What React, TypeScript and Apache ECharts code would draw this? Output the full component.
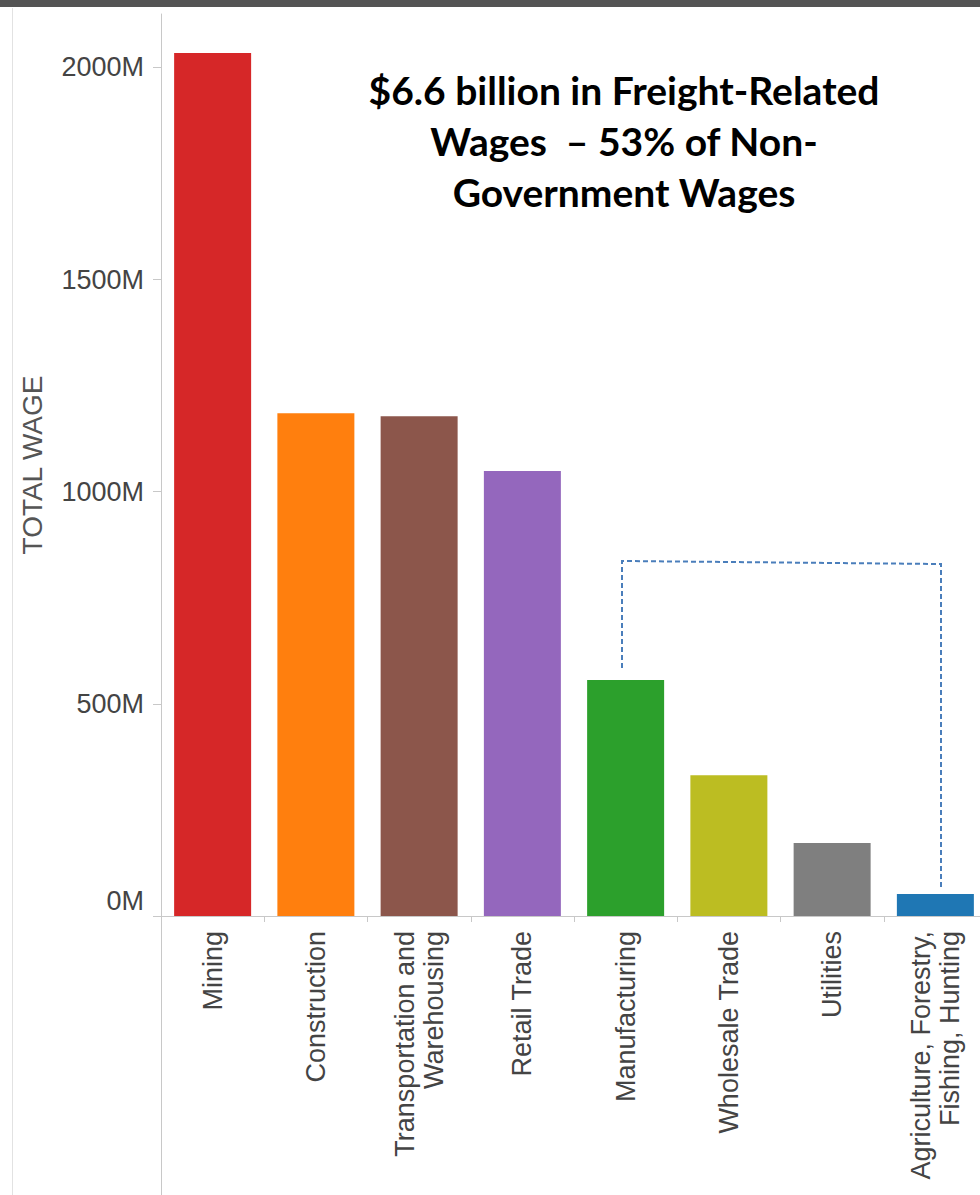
import { useEffect, useRef } from "react";
import * as echarts from "echarts";

const categories = [
  "Mining",
  "Construction",
  "Transportation and\nWarehousing",
  "Retail Trade",
  "Manufacturing",
  "Wholesale Trade",
  "Utilities",
  "Agriculture, Forestry,\nFishing, Hunting",
];
const wagesM = [2034, 1185, 1178, 1049, 556, 332, 172, 52];
const barColors = [
  "#d62728",
  "#ff7f0e",
  "#8c564b",
  "#9467bd",
  "#2ca02c",
  "#bcbd22",
  "#7f7f7f",
  "#1f77b4",
];
const yTicks = [0, 500, 1000, 1500, 2000];
const titleLines = [
  "$6.6 billion in Freight-Related",
  "Wages  \u2013 53% of Non-",
  "Government Wages",
];
const yAxisTitle = "TOTAL WAGE";

export default function App() {
  const ref = useRef<HTMLDivElement>(null);
  useEffect(() => {
    if (!ref.current) return;
    const chart = echarts.init(ref.current, null, { renderer: "svg" });
    const labelFont = "'Liberation Sans', Arial, sans-serif";
    chart.setOption({
      animation: false,
      backgroundColor: "#ffffff",
      grid: { left: 161, top: 14, width: 826, height: 902 },
      xAxis: {
        type: "category",
        data: categories,
        axisLine: { lineStyle: { color: "#c8c8c8", width: 1 } },
        axisTick: { show: true, length: 6, lineStyle: { color: "#c8c8c8" } },
        axisLabel: {
          rotate: 90,
          margin: 15,
          fontSize: 27,
          lineHeight: 29,
          color: "#444",
          fontFamily: labelFont,
          interval: 0,
        },
      },
      yAxis: {
        type: "value",
        min: 0,
        max: 2126,
        name: yAxisTitle,
        nameLocation: "middle",
        nameGap: 115,
        nameTextStyle: { fontSize: 28, color: "#555", fontFamily: labelFont },
        axisLine: { show: true, lineStyle: { color: "#c8c8c8", width: 1 } },
        axisTick: { show: true, length: 8, customValues: yTicks, lineStyle: { color: "#c8c8c8" } },
        splitLine: { show: false },
        axisLabel: {
          customValues: yTicks,
          margin: 17,
          fontSize: 27,
          color: "#444",
          fontFamily: labelFont,
          formatter: (v: number) => (v === 0 ? "{z|0M}" : v + "M"),
          rich: { z: { fontSize: 27, color: "#444", fontFamily: labelFont, padding: [0, 0, 30, 0] } },
        },
      },
      series: [
        {
          type: "bar",
          barWidth: 77,
          data: wagesM.map((v, i) => ({ value: v, itemStyle: { color: barColors[i] } })),
        },
      ],
      graphic: [
        { type: "rect", shape: { x: 0, y: 0, width: 1000, height: 7 }, style: { fill: "#545454" }, z: 10 },
        { type: "line", shape: { x1: 12.5, y1: 8, x2: 12.5, y2: 1195 }, style: { stroke: "#e2e2e2", lineWidth: 1 } },
        { type: "line", shape: { x1: 161.5, y1: 916, x2: 161.5, y2: 1195 }, style: { stroke: "#c8c8c8", lineWidth: 1 } },
        {
          type: "polyline",
          shape: { points: [[622, 668], [622, 561], [941, 564], [941, 887]] },
          style: { stroke: "#4a7ebb", lineWidth: 2, lineDash: [5, 3], fill: null },
          z: 20,
        },
        {
          type: "text",
          x: 624,
          y: 64,
          style: {
            text: titleLines.join("\n"),
            fontSize: 39,
            fontWeight: "bold",
            fontFamily: "Lato, 'Open Sans', sans-serif",
            fill: "#000",
            align: "center",
            verticalAlign: "top",
            lineHeight: 51,
          },
          z: 20,
        },
      ],
    });
    return () => chart.dispose();
  }, []);
  return (
    <div
      ref={ref}
      style={{ position: "fixed", left: 0, top: 0, width: 1000, height: 1195, background: "#fff" }}
    />
  );
}
